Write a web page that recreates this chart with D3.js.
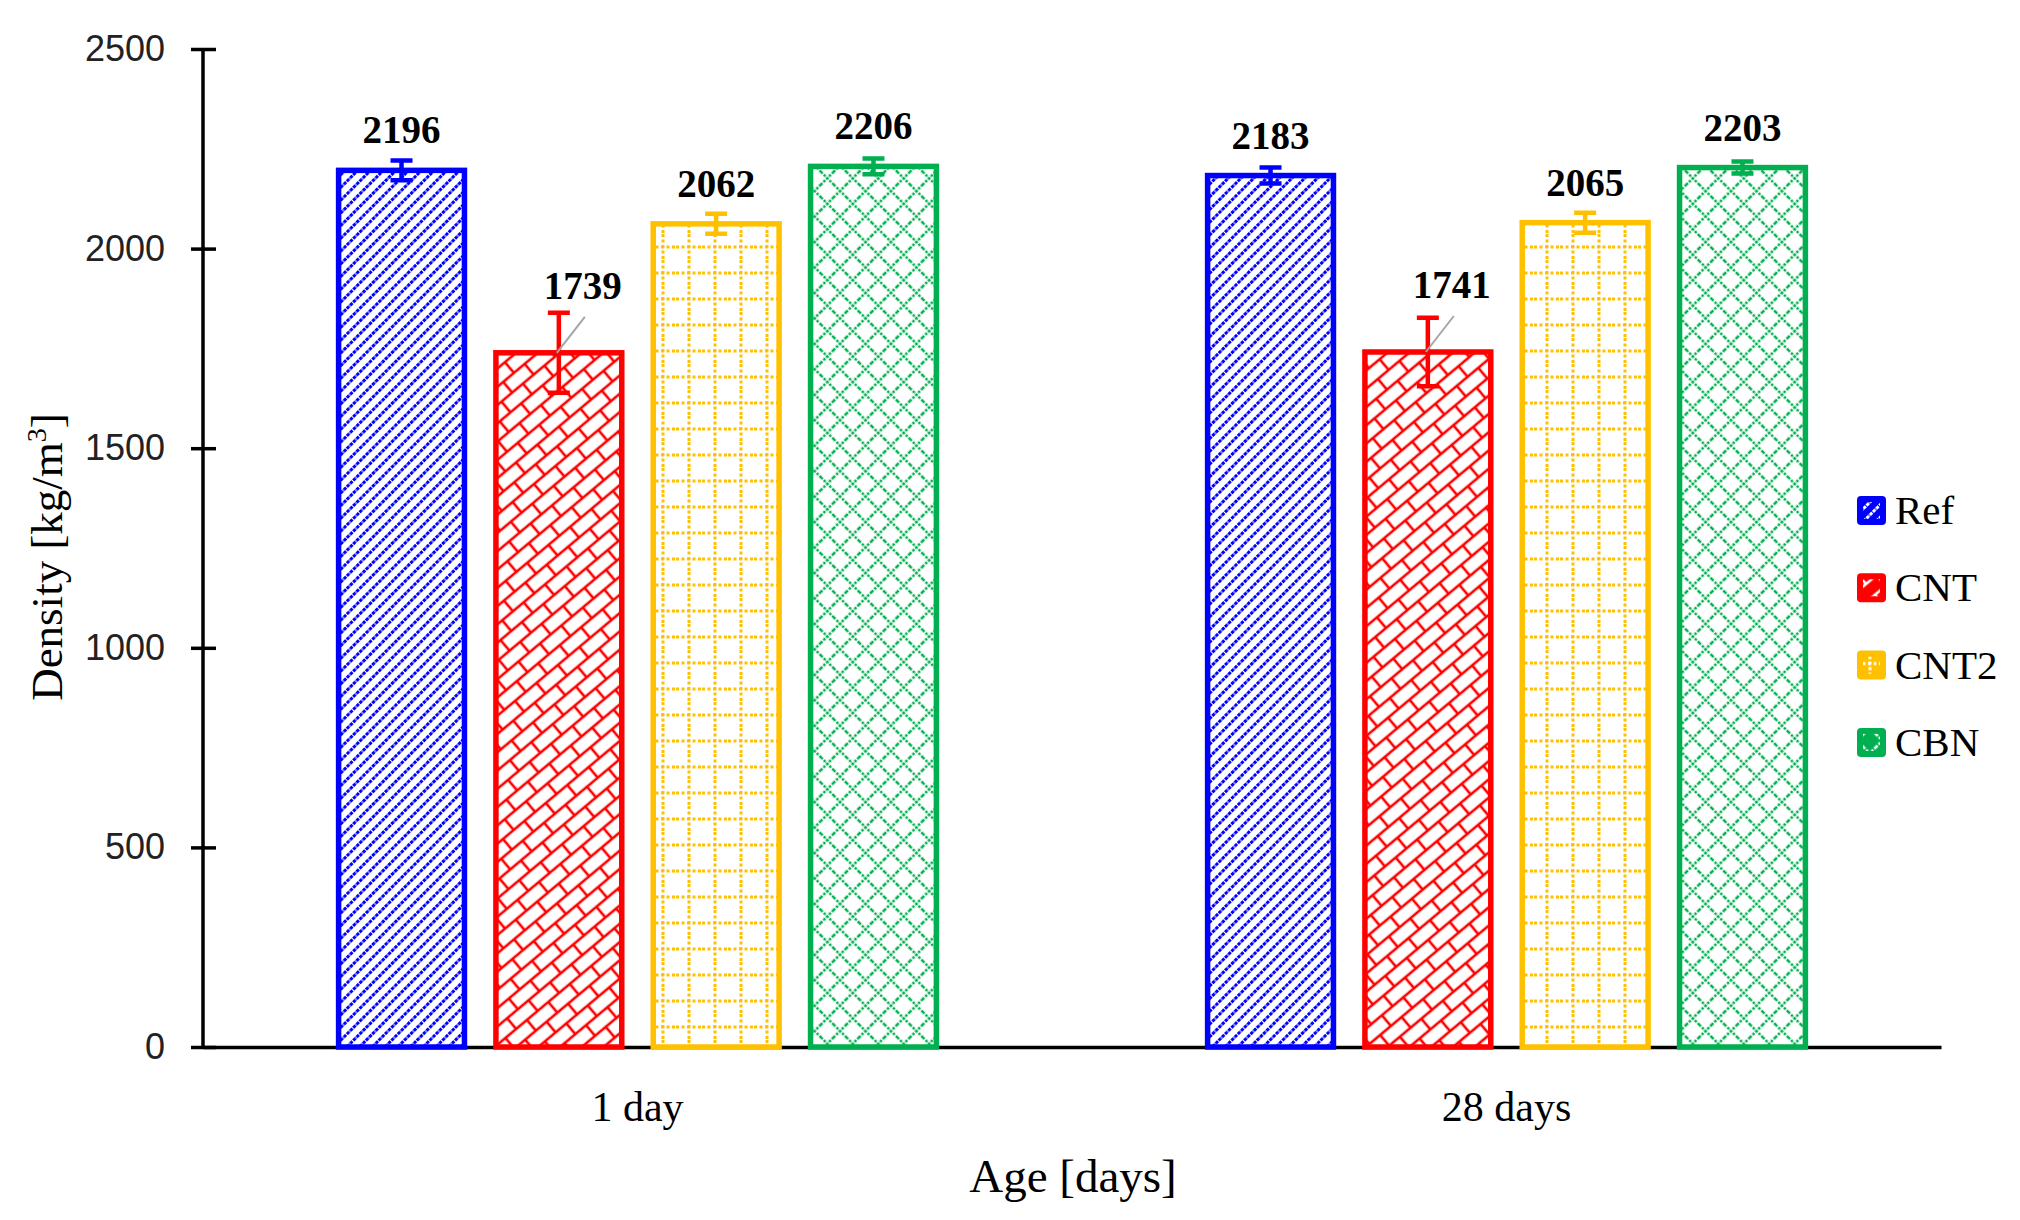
<!DOCTYPE html>
<html>
<head>
<meta charset="utf-8">
<script src="https://d3js.org/d3.v7.min.js"></script>
<style>
  body { margin: 0; background: #fff; }
  .yaxis .tick text { font-family: "Liberation Sans", sans-serif; font-size: 36px; fill: #222; }
  .xaxis .tick text { font-family: "Liberation Serif", serif; font-size: 42px; fill: #000; }
  .serif { font-family: "Liberation Serif", serif; fill: #000; }
</style>
</head>
<body>
<div id="chart"></div>
<script>
// chart data
const categories = ["1 day", "28 days"];
const seriesNames = ["Ref", "CNT", "CNT2", "CBN"];
const seriesColors = ["#0000FF", "#FF0000", "#FFC000", "#00B050"];
const refValues = [2196, 2183];
const cntValues = [1739, 1741];
const cnt2Values = [2062, 2065];
const cbnValues = [2206, 2203];
const refErrors = [25, 20];
const cntErrors = [100, 86];
const cnt2Errors = [25, 25];
const cbnErrors = [20, 15];
const yTicks = [0, 500, 1000, 1500, 2000, 2500];

const allValues = [refValues, cntValues, cnt2Values, cbnValues];
const allErrors = [refErrors, cntErrors, cnt2Errors, cbnErrors];

const rows = [];
categories.forEach((c, ci) => {
  seriesNames.forEach((s, si) => {
    rows.push({cat: c, name: s, si: si, value: allValues[si][ci], err: allErrors[si][ci]});
  });
});

const W = 2020, H = 1220;
const svg = d3.select("#chart").append("svg")
  .attr("width", W).attr("height", H);

svg.append("rect").attr("width", W).attr("height", H).attr("fill", "#fff");

const y = d3.scaleLinear().domain([0, 2500]).range([1047, 49]);
const x0 = d3.scaleBand().domain(categories).range([203, 1941]);
const x1 = d3.scaleBand().domain(seriesNames).range([0, x0.bandwidth()])
  .paddingInner(0.2).paddingOuter(0.862);

// hatch patterns, one coloured set for bars and one white set for legend marks
const defs = svg.append("defs");
function makePatterns(suffix, col) {
  // Ref: upward diagonal lines
  let p = defs.append("pattern").attr("id", "p0" + suffix)
    .attr("patternUnits", "userSpaceOnUse").attr("width", 9).attr("height", 9)
    .attr("patternTransform", "rotate(-45)");
  p.append("line").attr("x1", 0).attr("y1", 4.5).attr("x2", 9).attr("y2", 4.5)
    .attr("stroke", col[0]).attr("stroke-width", 2.8).attr("stroke-dasharray", "3.5,1");

  // CNT: shingle / brick
  p = defs.append("pattern").attr("id", "p1" + suffix)
    .attr("patternUnits", "userSpaceOnUse").attr("width", 28).attr("height", 28)
    .attr("patternTransform", "rotate(-40)");
  const g1 = p.append("g").attr("stroke", col[1]).attr("stroke-width", 2.6).attr("fill", "none");
  g1.append("line").attr("x1", 0).attr("y1", 0).attr("x2", 28).attr("y2", 0);
  g1.append("line").attr("x1", 0).attr("y1", 14).attr("x2", 28).attr("y2", 14);
  g1.append("line").attr("x1", 0).attr("y1", 28).attr("x2", 28).attr("y2", 28);
  g1.append("line").attr("x1", 0).attr("y1", 0).attr("x2", 0).attr("y2", 14);
  g1.append("line").attr("x1", 28).attr("y1", 0).attr("x2", 28).attr("y2", 14);
  g1.append("line").attr("x1", 14).attr("y1", 14).attr("x2", 14).attr("y2", 28);

  // CNT2: dotted grid
  p = defs.append("pattern").attr("id", "p2" + suffix)
    .attr("patternUnits", "userSpaceOnUse").attr("width", 26).attr("height", 26);
  const g2 = p.append("g").attr("stroke", col[2]).attr("stroke-width", 3)
    .attr("stroke-dasharray", "3,2.5");
  g2.append("line").attr("x1", 0).attr("y1", 13).attr("x2", 26).attr("y2", 13);
  g2.append("line").attr("x1", 13).attr("y1", 0).attr("x2", 13).attr("y2", 26);

  // CBN: dotted diagonal cross hatch
  p = defs.append("pattern").attr("id", "p3" + suffix)
    .attr("patternUnits", "userSpaceOnUse").attr("width", 18).attr("height", 18)
    .attr("patternTransform", "rotate(45)");
  const g3 = p.append("g").attr("stroke", col[3]).attr("stroke-width", 2.6)
    .attr("stroke-dasharray", "2.5,1.5");
  g3.append("line").attr("x1", 0).attr("y1", 9).attr("x2", 18).attr("y2", 9);
  g3.append("line").attr("x1", 9).attr("y1", 0).attr("x2", 9).attr("y2", 18);
}
makePatterns("", seriesColors);
makePatterns("w", seriesColors.map(() => "#fff"));

// y axis
const yAxis = svg.append("g").attr("class", "yaxis")
  .attr("transform", "translate(203,0)")
  .call(d3.axisLeft(y).tickValues(yTicks).tickFormat(d3.format("d"))
    .tickSize(12).tickPadding(26));
yAxis.select(".domain").attr("stroke", "#000").attr("stroke-width", 3.5)
  .attr("d", "M0," + y(0) + "V" + y(2500));
yAxis.selectAll(".tick line").attr("x1", -12).attr("x2", 13)
  .attr("stroke", "#000").attr("stroke-width", 3.5);

// x axis
const xAxis = svg.append("g").attr("class", "xaxis")
  .attr("transform", "translate(0," + y(0) + ")")
  .call(d3.axisBottom(x0).tickSize(0).tickPadding(44));
xAxis.select(".domain").attr("stroke", "#000").attr("stroke-width", 3.5);

// bars
const bars = svg.append("g").selectAll("g.bar").data(rows).join("g").attr("class", "bar");
bars.append("rect")
  .attr("x", d => x0(d.cat) + x1(d.name))
  .attr("y", d => y(d.value))
  .attr("width", x1.bandwidth())
  .attr("height", d => y(0) - y(d.value))
  .attr("fill", d => "url(#p" + d.si + ")")
  .attr("stroke", d => seriesColors[d.si])
  .attr("stroke-width", 5.5);

// error bars
const cx = d => x0(d.cat) + x1(d.name) + x1.bandwidth() / 2;
bars.append("path")
  .attr("d", d => {
    const c = cx(d), t = y(d.value + d.err), b = y(d.value - d.err);
    return "M" + c + "," + t + "V" + b + "M" + (c - 11) + "," + t + "H" + (c + 11) +
      "M" + (c - 11) + "," + b + "H" + (c + 11);
  })
  .attr("stroke", d => seriesColors[d.si]).attr("stroke-width", 4.5).attr("fill", "none");

// leader lines for shifted labels
const shifted = d => d.name === "CNT";
bars.filter(shifted).append("line")
  .attr("x1", d => cx(d) - 2).attr("y1", d => y(d.value))
  .attr("x2", d => cx(d) + 26).attr("y2", d => y(d.value) - 36)
  .attr("stroke", "#A6A6A6").attr("stroke-width", 2);

// value labels
bars.append("text").attr("class", "serif")
  .attr("x", d => cx(d) + (shifted(d) ? 24 : 0))
  .attr("y", d => y(d.value) - (shifted(d) ? 54 : 27))
  .attr("text-anchor", "middle")
  .style("font-size", "39px").style("font-weight", "bold")
  .text(d => d.value);

// legend
const leg = svg.append("g").selectAll("g").data(seriesNames).join("g")
  .attr("transform", (d, i) => "translate(1857," + (496 + i * 77.3) + ")");
leg.append("rect").attr("width", 29).attr("height", 29).attr("rx", 4)
  .attr("fill", (d, i) => seriesColors[i]);
leg.append("rect").attr("x", 6).attr("y", 6).attr("width", 17).attr("height", 17)
  .attr("fill", (d, i) => "url(#p" + i + "w)");
leg.append("text").attr("class", "serif")
  .attr("x", 38).attr("y", 28)
  .style("font-size", "41px")
  .text(d => d);

// axis titles
svg.append("text").attr("class", "serif")
  .attr("x", 1073).attr("y", 1192).attr("text-anchor", "middle")
  .style("font-size", "47px").text("Age [days]");

const yt = svg.append("text").attr("class", "serif")
  .attr("transform", "translate(62,557) rotate(-90)")
  .attr("text-anchor", "middle").style("font-size", "45px");
yt.append("tspan").text("Density [kg/m");
yt.append("tspan").attr("dy", -16).style("font-size", "28px").text("3");
yt.append("tspan").attr("dy", 16).text("]");
</script>
</body>
</html>
